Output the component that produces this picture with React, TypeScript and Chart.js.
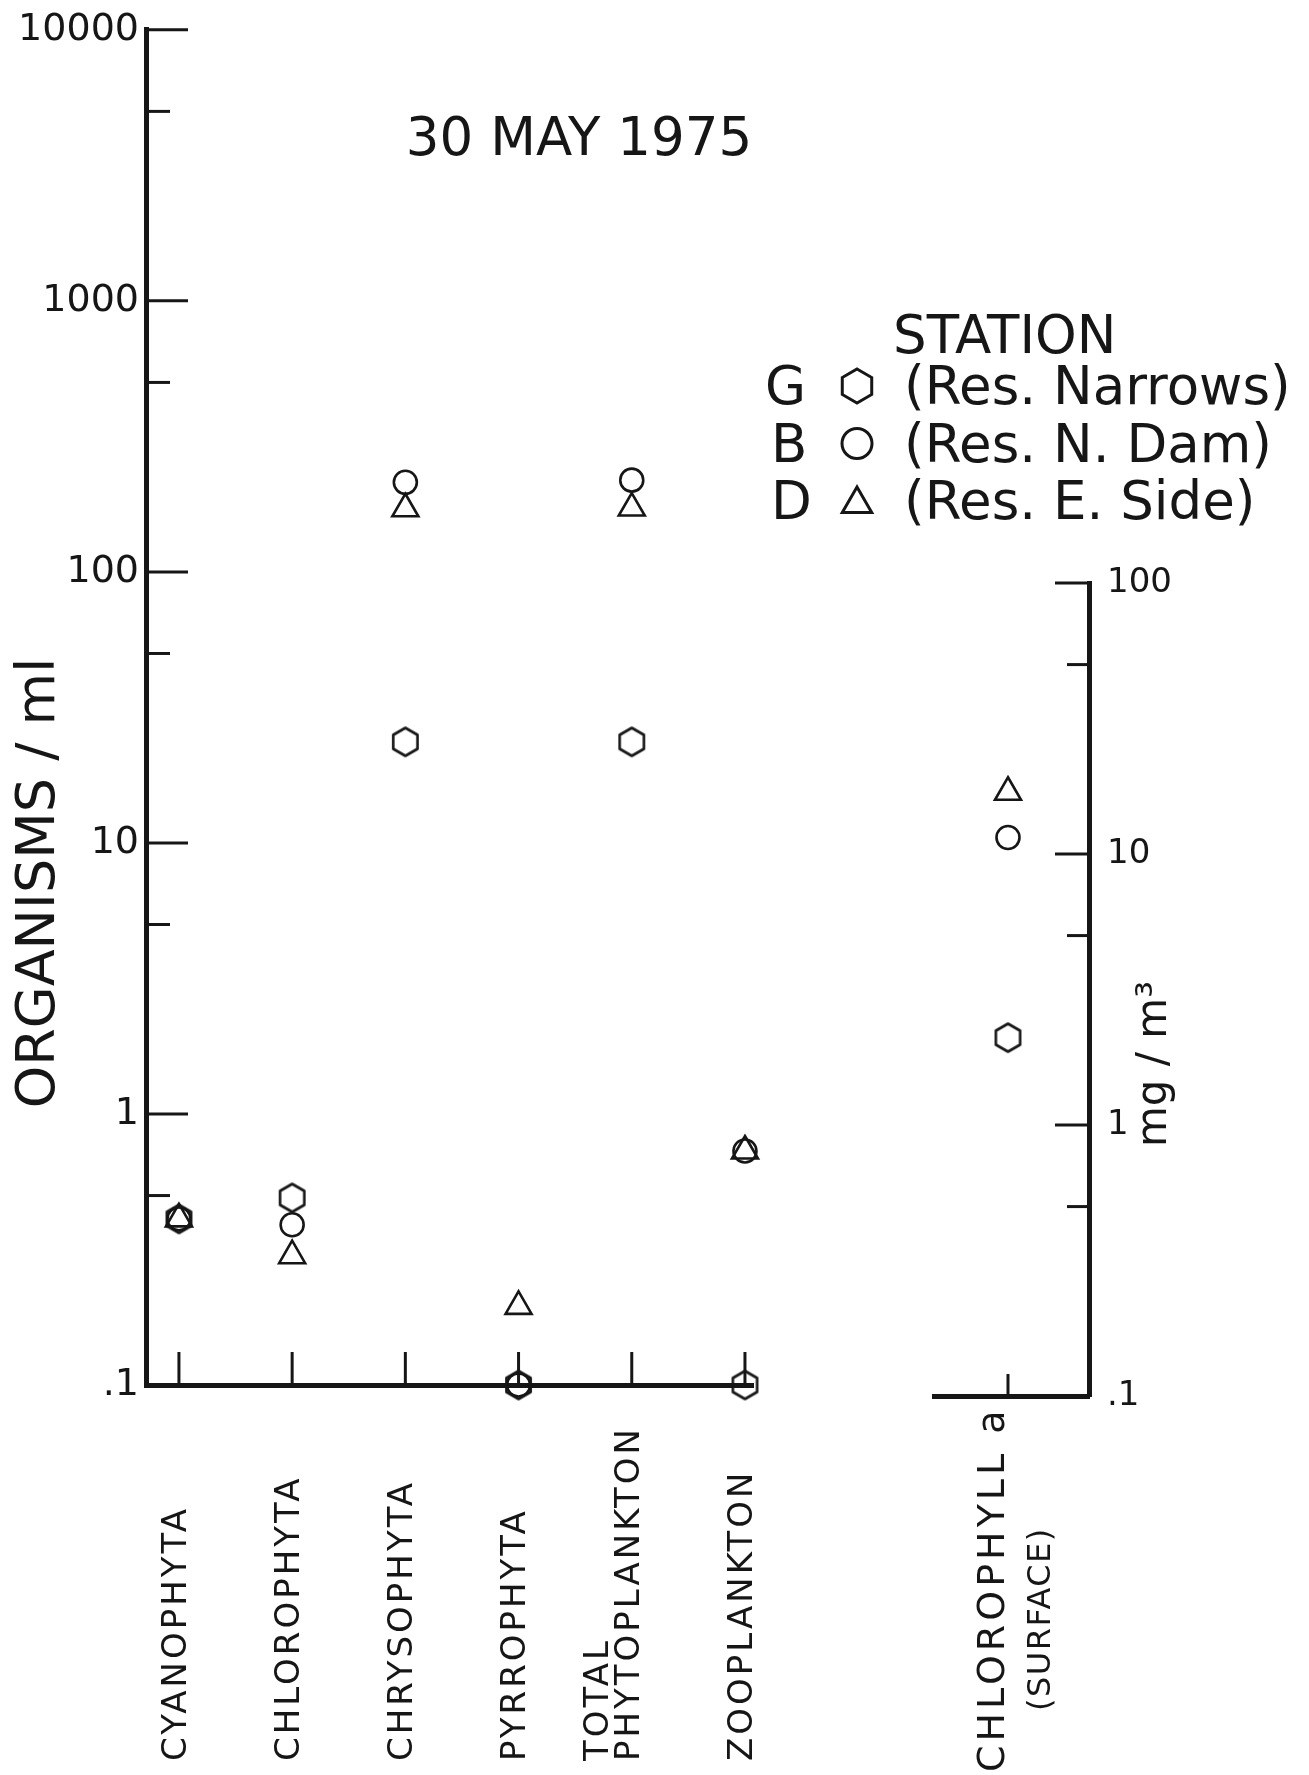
import React, { useEffect, useRef } from 'react';
import { Chart, registerables } from 'chart.js';

Chart.register(...registerables);

const W = 1309;
const H = 1775;
const INK = '#161616';
const FONT = '"DejaVu Sans", "Liberation Sans", sans-serif';

// ---------- data ----------
const categories: string[][] = [
  ['CYANOPHYTA'],
  ['CHLOROPHYTA'],
  ['CHRYSOPHYTA'],
  ['PYRROPHYTA'],
  ['TOTAL', 'PHYTOPLANKTON'],
  ['ZOOPLANKTON'],
];
// organisms / ml
const stationG = [0.41, 0.49, 23.6, 0.1, 23.6, 0.1];
const stationB = [0.41, 0.39, 214, 0.1, 218, 0.73];
const stationD = [0.41, 0.3, 171, 0.195, 172, 0.73];

// chlorophyll a (mg/m3)
const chlLabel = ['CHLOROPHYLL a', '(SURFACE)'];
const chlG = [2.1];
const chlB = [11.5];
const chlD = [16.9];

const leftTickValues = [0.1, 1, 10, 100, 1000, 10000];
const leftTickLabels = ['.1', '1', '10', '100', '1000', '10000'];
const leftMinorValues = [0.5, 5, 50, 500, 5000];
const rightTickValues = [0.1, 1, 10, 100];
const rightTickLabels = ['.1', '1', '10', '100'];
const rightMinorValues = [0.5, 5, 50];

const chartTitle = '30 MAY 1975';
const leftAxisTitle = 'ORGANISMS / ml';
const rightAxisTitle = 'mg / m\u00B3';
const legendTitle = 'STATION';
const stationCodes = ['G', 'B', 'D'];
const stationNames = ['(Res. Narrows)', '(Res. N. Dam)', '(Res. E. Side)'];
const stationShapes = ['hexagon', 'circle', 'triangle'];

// ---------- helpers ----------
function pathShape(ctx: CanvasRenderingContext2D, shape: string, x: number, y: number, r: number) {
  ctx.beginPath();
  if (shape === 'circle') {
    ctx.arc(x, y, r, 0, Math.PI * 2);
  } else if (shape === 'hexagon') {
    for (let k = 0; k < 6; k++) {
      const a = -Math.PI / 2 + (k * Math.PI) / 3;
      const px = x + r * Math.cos(a);
      const py = y + r * Math.sin(a);
      if (k === 0) ctx.moveTo(px, py);
      else ctx.lineTo(px, py);
    }
    ctx.closePath();
  } else {
    for (let k = 0; k < 3; k++) {
      const a = -Math.PI / 2 + (k * 2 * Math.PI) / 3;
      const px = x + r * Math.cos(a);
      const py = y + r * Math.sin(a);
      if (k === 0) ctx.moveTo(px, py);
      else ctx.lineTo(px, py);
    }
    ctx.closePath();
  }
}

function makeHexImage(r: number, lw: number) {
  const c = document.createElement('canvas');
  const s = Math.ceil(2 * r + lw + 4);
  c.width = s;
  c.height = s;
  const ctx = c.getContext('2d')!;
  ctx.strokeStyle = INK;
  ctx.lineWidth = lw;
  ctx.lineJoin = 'round';
  pathShape(ctx, 'hexagon', s / 2, s / 2, r);
  ctx.stroke();
  return c;
}

function line(ctx: CanvasRenderingContext2D, x1: number, y1: number, x2: number, y2: number) {
  ctx.beginPath();
  ctx.moveTo(x1, y1);
  ctx.lineTo(x2, y2);
  ctx.stroke();
}

function vText(ctx: CanvasRenderingContext2D, text: string, x: number, y: number, align: CanvasTextAlign) {
  ctx.save();
  ctx.translate(x, y);
  ctx.rotate(-Math.PI / 2);
  ctx.textAlign = align;
  ctx.textBaseline = 'middle';
  ctx.fillText(text, 0, 0);
  ctx.restore();
}

function makeDatasets(hex: HTMLCanvasElement, g: number[], b: number[], d: number[]) {
  const base = {
    borderColor: INK,
    backgroundColor: 'rgba(0,0,0,0)',
    borderWidth: 2.6,
    showLine: false,
    clip: false as any,
  };
  return [
    { ...base, label: 'G', data: g.map((v, i) => ({ x: i, y: v })), pointStyle: hex as any, pointRadius: 14 },
    { ...base, label: 'B', data: b.map((v, i) => ({ x: i, y: v })), pointStyle: 'circle' as any, pointRadius: 11.5 },
    { ...base, label: 'D', data: d.map((v, i) => ({ x: i, y: v })), pointStyle: 'triangle' as any, pointRadius: 15 },
  ];
}

// ---------- plugins ----------
const decorLeft = {
  id: 'decorLeft',
  beforeDatasetsDraw(chart: any) {
    const { ctx, chartArea: a, scales } = chart;
    const x = scales.x;
    const y = scales.y;
    ctx.save();
    ctx.strokeStyle = INK;
    ctx.lineWidth = 3;
    leftTickValues.forEach((v) => {
      if (v === y.min) return;
      const py = y.getPixelForValue(v);
      line(ctx, a.left, py, a.left + 42, py);
    });
    leftMinorValues.forEach((v) => {
      const py = y.getPixelForValue(v);
      line(ctx, a.left, py, a.left + 24, py);
    });
    categories.forEach((_, i) => {
      const px = x.getPixelForValue(i);
      line(ctx, px, a.bottom, px, a.bottom - 33);
    });
    ctx.restore();
  },
  afterDraw(chart: any) {
    const { ctx, scales } = chart;
    const x = scales.x;
    ctx.save();
    ctx.fillStyle = INK;
    ctx.strokeStyle = INK;

    // category labels (rotated, reading upward from a common bottom line)
    ctx.font = `34px ${FONT}`;
    (ctx as any).letterSpacing = '3px';
    categories.forEach((lines, i) => {
      const px = x.getPixelForValue(i);
      const n = lines.length;
      lines.forEach((t, j) => {
        vText(ctx, t, px - 2 - (n - 1 - j) * 31, 1761, 'left');
      });
    });
    (ctx as any).letterSpacing = '0px';

    // y axis title
    ctx.font = `54px ${FONT}`;
    vText(ctx, leftAxisTitle, 40, 883, 'center');

    // chart title
    ctx.font = `53px ${FONT}`;
    ctx.textAlign = 'center';
    ctx.textBaseline = 'alphabetic';
    ctx.fillText(chartTitle, 579, 155);

    // legend
    ctx.textAlign = 'left';
    ctx.fillText(legendTitle, 893, 353);
    ctx.lineWidth = 3;
    stationCodes.forEach((code, k) => {
      const by = 404 + k * 57.5;
      ctx.fillText(code, k === 0 ? 765 : 771, by);
      const r = stationShapes[k] === 'circle' ? 15 : 17;
      pathShape(ctx, stationShapes[k], 857, by - 18 + (stationShapes[k] === 'triangle' ? 3 : 0), r);
      ctx.stroke();
      ctx.fillText(stationNames[k], 904, by);
    });
    ctx.restore();
  },
};

const decorRight = {
  id: 'decorRight',
  beforeDatasetsDraw(chart: any) {
    const { ctx, chartArea: a, scales } = chart;
    const x = scales.x;
    const y = scales.y;
    ctx.save();
    ctx.strokeStyle = INK;
    ctx.lineWidth = 3;
    rightTickValues.forEach((v) => {
      if (v === y.min) return;
      const py = y.getPixelForValue(v);
      line(ctx, a.right, py, a.right - 34, py);
    });
    rightMinorValues.forEach((v) => {
      const py = y.getPixelForValue(v);
      line(ctx, a.right, py, a.right - 22, py);
    });
    const px = x.getPixelForValue(0);
    line(ctx, px, a.bottom, px, a.bottom - 22);
    ctx.restore();
  },
  afterDraw(chart: any) {
    const { ctx, scales } = chart;
    const px = scales.x.getPixelForValue(0);
    ctx.save();
    ctx.fillStyle = INK;
    ctx.font = `38px ${FONT}`;
    (ctx as any).letterSpacing = '4px';
    vText(ctx, chlLabel[0], px - 14, 1772, 'left');
    ctx.font = `32px ${FONT}`;
    (ctx as any).letterSpacing = '1.5px';
    vText(ctx, chlLabel[1], px + 34, 1711, 'left');
    (ctx as any).letterSpacing = '0px';
    ctx.font = `42px ${FONT}`;
    vText(ctx, rightAxisTitle, 1155, 1064, 'center');
    ctx.restore();
  },
};

export default function App() {
  const leftRef = useRef<HTMLCanvasElement>(null);
  const rightRef = useRef<HTMLCanvasElement>(null);

  useEffect(() => {
    const hex = makeHexImage(14, 2.6);
    const border = { display: true, width: 5, color: INK };

    const left = new Chart(leftRef.current!, {
      type: 'scatter',
      data: { datasets: makeDatasets(hex, stationG, stationB, stationD) as any },
      options: {
        responsive: false,
        animation: false,
        events: [],
        layout: { padding: { left: 0, top: 23, right: W - 753, bottom: 0 } },
        plugins: { legend: { display: false }, tooltip: { enabled: false }, title: { display: false } },
        scales: {
          x: {
            type: 'linear',
            min: -0.291,
            max: 5.071,
            grid: { display: false, drawTicks: false },
            ticks: { display: false },
            border,
            afterFit: (s: any) => {
              s.height = H - 1385;
            },
          },
          y: {
            type: 'logarithmic',
            position: 'left',
            min: 0.1,
            max: 10000,
            grid: { display: false, drawTicks: false },
            border,
            ticks: {
              autoSkip: false,
              color: INK,
              padding: 7,
              font: { family: FONT, size: 38 },
              callback: (v: any) => {
                const i = leftTickValues.indexOf(Number(v));
                return i >= 0 ? leftTickLabels[i] : '';
              },
            },
            afterBuildTicks: (s: any) => {
              s.ticks = leftTickValues.map((v) => ({ value: v }));
            },
            afterFit: (s: any) => {
              s.width = 146;
            },
          },
        },
      } as any,
      plugins: [decorLeft],
    });

    const right = new Chart(rightRef.current!, {
      type: 'scatter',
      data: { datasets: makeDatasets(hex, chlG, chlB, chlD) as any },
      options: {
        responsive: false,
        animation: false,
        events: [],
        layout: { padding: { left: 934, top: 583, right: 0, bottom: 0 } },
        plugins: { legend: { display: false }, tooltip: { enabled: false }, title: { display: false } },
        scales: {
          x: {
            type: 'linear',
            min: -1,
            max: 1.095,
            grid: { display: false, drawTicks: false },
            ticks: { display: false },
            border,
            afterFit: (s: any) => {
              s.height = H - 1396;
            },
          },
          y: {
            type: 'logarithmic',
            position: 'right',
            min: 0.1,
            max: 100,
            grid: { display: false, drawTicks: false },
            border,
            ticks: {
              autoSkip: false,
              color: INK,
              padding: 18,
              font: { family: FONT, size: 34 },
              callback: (v: any) => {
                const i = rightTickValues.indexOf(Number(v));
                return i >= 0 ? rightTickLabels[i] : '';
              },
            },
            afterBuildTicks: (s: any) => {
              s.ticks = rightTickValues.map((v) => ({ value: v }));
            },
            afterFit: (s: any) => {
              s.width = W - 1089;
            },
          },
        },
      } as any,
      plugins: [decorRight],
    });

    return () => {
      left.destroy();
      right.destroy();
    };
  }, []);

  const cstyle: React.CSSProperties = { position: 'absolute', left: 0, top: 0, width: W, height: H };
  return (
    <div style={{ position: 'absolute', left: 0, top: 0, width: W, height: H, background: '#fff' }}>
      <canvas ref={leftRef} width={W} height={H} style={cstyle} />
      <canvas ref={rightRef} width={W} height={H} style={cstyle} />
    </div>
  );
}
